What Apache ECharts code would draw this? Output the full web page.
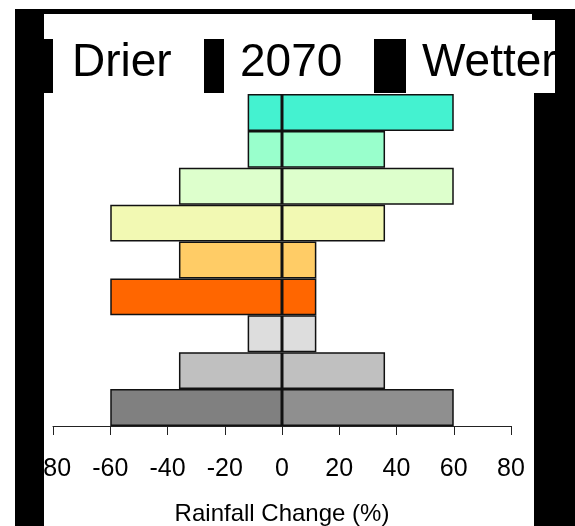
<!DOCTYPE html>
<html>
<head>
<meta charset="utf-8">
<script src="https://cdn.jsdelivr.net/npm/echarts@6/dist/echarts.min.js"></script>
<style>
  html, body { margin: 0; padding: 0; background: #fff; }
  #chart { width: 575px; height: 526px; }
</style>
</head>
<body>
<div id="chart"></div>
<script>
// bars listed top to bottom
const categories = ['1', '2', '3', '4', '5', '6', '7', '8', '9'];
const drierValues = [-12, -12, -36, -60, -36, -60, -12, -36, -60];
const wetterValues = [60, 36, 60, 36, 12, 12, 12, 36, 60];
const drierColors = ['#44f2d0', '#99ffcc', '#ddffcc', '#f2f9b3', '#ffcc66', '#ff6600', '#dddddd', '#c0c0c0', '#808080'];
const wetterColors = ['#44f2d0', '#99ffcc', '#ddffcc', '#f2f9b3', '#ffcc66', '#ff6600', '#dddddd', '#c0c0c0', '#8f8f8f'];
const headings = ['Drier', '2070', 'Wetter'];

const chart = echarts.init(document.getElementById('chart'));

const FONT = '"Liberation Sans", Arial, sans-serif';

function barSeries(values, colors) {
  return {
    type: 'bar',
    data: values.map((v, i) => ({
      value: v,
      itemStyle: { color: colors[i] }
    })),
    barGap: '-100%',
    barCategoryGap: 0,
    itemStyle: { borderColor: '#111', borderWidth: 1.5 },
    silent: true
  };
}

// black frame pieces drawn over the chart
const blk = { fill: '#000' };
const frame = [
  [15, 9, 560, 5],     // top strip
  [15, 9, 29, 517],    // left column
  [44, 39, 9, 54],     // left notch
  [204, 39, 20, 54],   // block before 2070
  [374, 39, 32, 54],   // block before Wetter
  [532, 14, 43, 6],    // top right box
  [555, 9, 20, 85],    // right strip, title row
  [534, 93, 41, 433]   // right column
].map(r => ({
  type: 'rect', z: 100, silent: true,
  shape: { x: r[0], y: r[1], width: r[2], height: r[3] },
  style: blk
}));

const titleX = [72, 240, 422];
const titles = headings.map((t, i) => ({
  type: 'text', z: 90, silent: true,
  left: titleX[i], top: 40,
  style: { text: t, font: '46px ' + FONT, fill: '#000' }
}));

chart.setOption({
  animation: false,
  grid: { left: 53, right: 64, top: 94, bottom: 100, containLabel: false, outerBoundsMode: 'none' },
  xAxis: {
    type: 'value',
    min: -80, max: 80, interval: 20,
    name: 'Rainfall Change (%)',
    nameLocation: 'middle',
    nameGap: 76,
    nameTextStyle: { fontFamily: FONT, fontSize: 24, color: '#000' },
    axisLine: { show: true, onZero: false, lineStyle: { color: '#222', width: 1 } },
    axisTick: { show: true, inside: false, length: 9, lineStyle: { color: '#222' } },
    axisLabel: { fontFamily: FONT, fontSize: 25, color: '#000', margin: 31 },
    splitLine: { show: false }
  },
  yAxis: {
    type: 'category',
    data: categories,
    inverse: true,
    show: false
  },
  series: [barSeries(drierValues, drierColors), barSeries(wetterValues, wetterColors)],
  graphic: titles.concat(frame)
});
</script>
</body>
</html>
